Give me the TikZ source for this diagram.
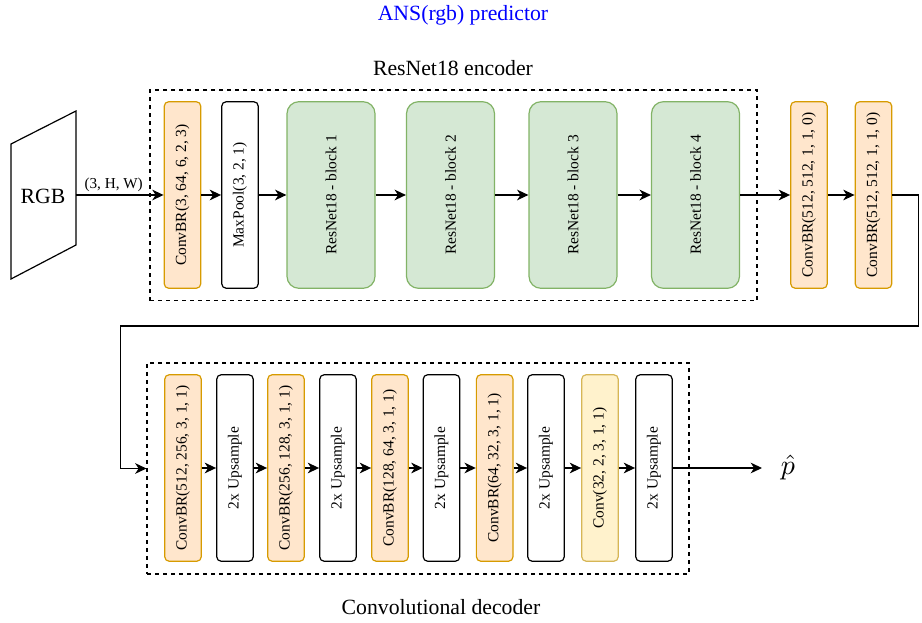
\documentclass[tikz,border=0pt]{standalone}
\usepackage{fontspec}
\setmainfont{Liberation Serif}
\usetikzlibrary{arrows.meta}

\definecolor{orfill}{HTML}{FFE6CC}
\definecolor{ordraw}{HTML}{D79B00}
\definecolor{grfill}{HTML}{D5E8D4}
\definecolor{grdraw}{HTML}{82B366}
\definecolor{yefill}{HTML}{FFF2CC}
\definecolor{yedraw}{HTML}{D6B656}

\newcommand{\vt}[1]{\rotatebox{90}{#1}}

\tikzset{
 blk/.style={draw, line width=0.9pt, rounded corners=3.5pt, minimum width=27.5pt,
   minimum height=140pt, inner sep=0pt, font=\fontsize{11.6}{13}\selectfont},
 cbr/.style={blk, draw=ordraw, fill=orfill},
 ups/.style={blk, draw=black, fill=white},
 res/.style={blk, draw=grdraw, fill=grfill, minimum width=66pt, rounded corners=9pt},
 cnv/.style={blk, draw=yedraw, fill=yefill},
 grp/.style={draw, dash pattern=on 3pt off 3pt, line width=0.8pt, inner sep=0pt},
 arr/.style={-{Stealth[length=8.5pt,width=8pt,inset=2.6pt]}, line width=0.9pt},
 ttl/.style={font=\fontsize{16.3}{19}\selectfont}
}

\begin{document}
\begin{tikzpicture}[x=0.75pt,y=0.75pt]
 \useasboundingbox (0,0) rectangle (922,-623);
 % titles
 \node[ttl, text=blue] (title) at (463,-15) {ANS(rgb) predictor};
 \node[ttl] (enct) at (453,-68) {ResNet18 encoder};
 \node[ttl] (dect) at (441,-607) {Convolutional decoder};
 % dashed groups
 \node[grp, minimum width=455.25pt, minimum height=157.9pt] (enc) at (453.5,-195.25) {};
 \node[grp, minimum width=406.5pt, minimum height=158.25pt] (dec) at (418,-468.5) {};
 % input
 \draw[line width=0.9pt] (11,-144) -- (76,-111) -- (76,-245) -- (11,-279) -- cycle;
 \node[ttl] (rgb) at (43,-196) {RGB};
 \coordinate (rgbr) at (76,-195);
 % encoder
 \node[cbr] (cv1) at (182.5,-195) {\vt{ConvBR(3, 64, 6, 2, 3)}};
 \node[ups] (mp1) at (240,-195) {\vt{MaxPool(3, 2, 1)}};
 \node[res] (rn1) at (331,-195) {\vt{ResNet18 - block 1}};
 \node[res] (rn2) at (450.5,-195) {\vt{ResNet18 - block 2}};
 \node[res] (rn3) at (573,-195) {\vt{ResNet18 - block 3}};
 \node[res] (rn4) at (695.5,-195) {\vt{ResNet18 - block 4}};
 \node[cbr] (cv2) at (809,-195) {\vt{ConvBR(512, 512, 1, 1, 0)}};
 \node[cbr] (cv3) at (873.5,-195) {\vt{ConvBR(512, 512, 1, 1, 0)}};
 % decoder
 \node[cbr] (dc1) at (183,-468) {\vt{ConvBR(512, 256, 3, 1, 1)}};
 \node[ups] (up1) at (235,-468) {\vt{2x Upsample}};
 \node[cbr] (dc2) at (286,-468) {\vt{ConvBR(256, 128, 3, 1, 1)}};
 \node[ups] (up2) at (338,-468) {\vt{2x Upsample}};
 \node[cbr] (dc3) at (390,-468) {\vt{ConvBR(128, 64, 3, 1, 1)}};
 \node[ups] (up3) at (441.5,-468) {\vt{2x Upsample}};
 \node[cbr] (dc4) at (494.7,-468) {\vt{ConvBR(64, 32, 3, 1, 1)}};
 \node[ups] (up4) at (546,-468) {\vt{2x Upsample}};
 \node[cnv] (dc5) at (600,-468) {\vt{Conv(32, 2, 3, 1, 1)}};
 \node[ups] (up5) at (654,-468) {\vt{2x Upsample}};
 \node (phat) at (788,-468) {\scalebox{2.1}{$\hat{p}$}};
 \coordinate (pend) at (762,-468);
 % connectors
 \draw[arr] (rgbr) -- (cv1.west) node[pos=0.43, above, inner sep=2pt,
   font=\fontsize{11.4}{13}\selectfont] {(3, H, W)};
 \draw[arr] (cv1) -- (mp1);
 \draw[arr] (mp1) -- (rn1);
 \draw[arr] (rn1) -- (rn2);
 \draw[arr] (rn2) -- (rn3);
 \draw[arr] (rn3) -- (rn4);
 \draw[arr] (rn4) -- (cv2);
 \draw[arr] (cv2) -- (cv3);
 \draw[arr] (cv3.east) -| ++(26,-131) -| ([xshift=-19.5pt]dec.west) -- (dec.west);
 \draw[arr] (dc1) -- (up1);
 \draw[arr] (up1) -- (dc2);
 \draw[arr] (dc2) -- (up2);
 \draw[arr] (up2) -- (dc3);
 \draw[arr] (dc3) -- (up3);
 \draw[arr] (up3) -- (dc4);
 \draw[arr] (dc4) -- (up4);
 \draw[arr] (up4) -- (dc5);
 \draw[arr] (dc5) -- (up5);
 \draw[arr] (up5.east) -- (pend);
\end{tikzpicture}
\end{document}
